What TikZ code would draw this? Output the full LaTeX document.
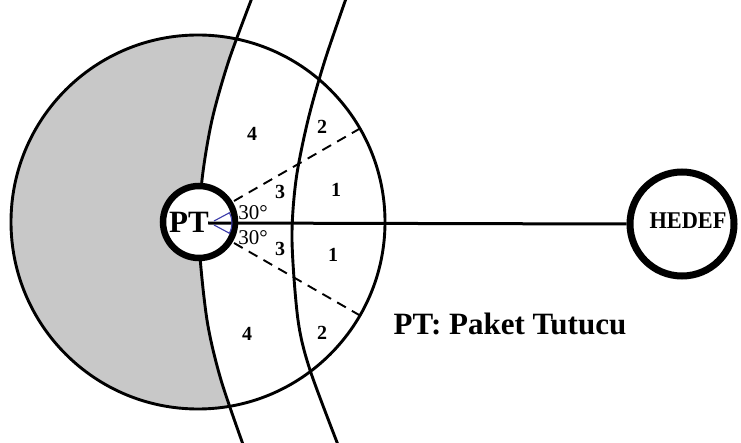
\documentclass[tikz,border=0pt]{standalone}
\usepackage{fontspec}
\setmainfont{Liberation Serif}
\definecolor{shadegray}{RGB}{200,200,200}
\definecolor{markblue}{RGB}{60,60,170}
\begin{document}
\begin{tikzpicture}[x=1pt,y=-1pt,
  curve/.style={line width=2.9pt},
  numlbl/.style={font=\fontsize{20}{20}\selectfont\bfseries, inner sep=0pt},
  anglbl/.style={font=\fontsize{21}{21}\selectfont, inner sep=0pt},
  dashline/.style={line width=1.9pt, dash pattern=on 10pt off 7pt},
  ring/.style={circle, draw, fill=white, inner sep=0pt},
]
\useasboundingbox (0,0) rectangle (741,443);
\coordinate (C) at (198,222);
% shaded part of the big circle
\begin{scope}
  \clip (C) circle[radius=187pt];
  \fill[shadegray] (0,-10) -- plot[smooth] coordinates {(255,-10) (229,60) (212,120) (202,180) (199,240) (207,320) (221,380) (245,450)} -- (0,450) -- cycle;
\end{scope}
% two curves
\draw[curve] plot[smooth] coordinates {(255,-10) (229,60) (212,120) (202,180) (199,240) (207,320) (221,380) (245,450)};
\draw[curve] plot[smooth] coordinates {(349,-10) (325,60) (308,120) (296,180) (292,240) (298,320) (310,370) (340,450)};
% big circle
\draw[line width=2.9pt] (C) circle[radius=187pt];
% dashed 30 degree lines
\coordinate (d1s) at (234,201);
\coordinate (d1e) at (360,128.5);
\coordinate (d2s) at (234,243);
\coordinate (d2e) at (360,315.5);
\draw[dashline] (d1s) -- (d1e);
\draw[dashline] (d2s) -- (d2e);
% nodes
\node[ring, line width=6.5pt, minimum size=72pt] (PT) at (199,222) {};
\node[ring, line width=7pt, minimum size=104pt] (HEDEF) at (682,224) {};
\coordinate (lstart) at (208,223);
\draw[line width=3pt] (lstart) -- (HEDEF.west);
% blue angle marks
\draw[markblue, line width=1.1pt] (229,213) -- (214,221);
\draw[markblue, line width=1.1pt] (214,225) -- (229,233);
\draw[markblue, line width=1.1pt] (229,212) .. controls (233,219) and (233,227) .. (229,234);
% texts
\node[font=\fontsize{31}{31}\selectfont\bfseries, inner sep=0pt] (PTlbl) at (189,222) {PT};
\node[font=\fontsize{24}{24}\selectfont\bfseries, inner sep=0pt] (HEDEFlbl) at (688,221) {\scalebox{0.93}[1]{HEDEF}};
\node[font=\fontsize{31}{31}\selectfont\bfseries, inner sep=0pt] (legend) at (510,324) {PT: Paket Tutucu};
\node[anglbl] (a1) at (253,213) {30°};
\node[anglbl] (a2) at (253,238) {30°};
\node[numlbl] (n4a) at (252,134) {4};
\node[numlbl] (n2a) at (322,127) {2};
\node[numlbl] (n3a) at (280,192) {3};
\node[numlbl] (n1a) at (336,190) {1};
\node[numlbl] (n3b) at (280,249) {3};
\node[numlbl] (n1b) at (333,255) {1};
\node[numlbl] (n4b) at (247,334) {4};
\node[numlbl] (n2b) at (322,333) {2};
\end{tikzpicture}
\end{document}
